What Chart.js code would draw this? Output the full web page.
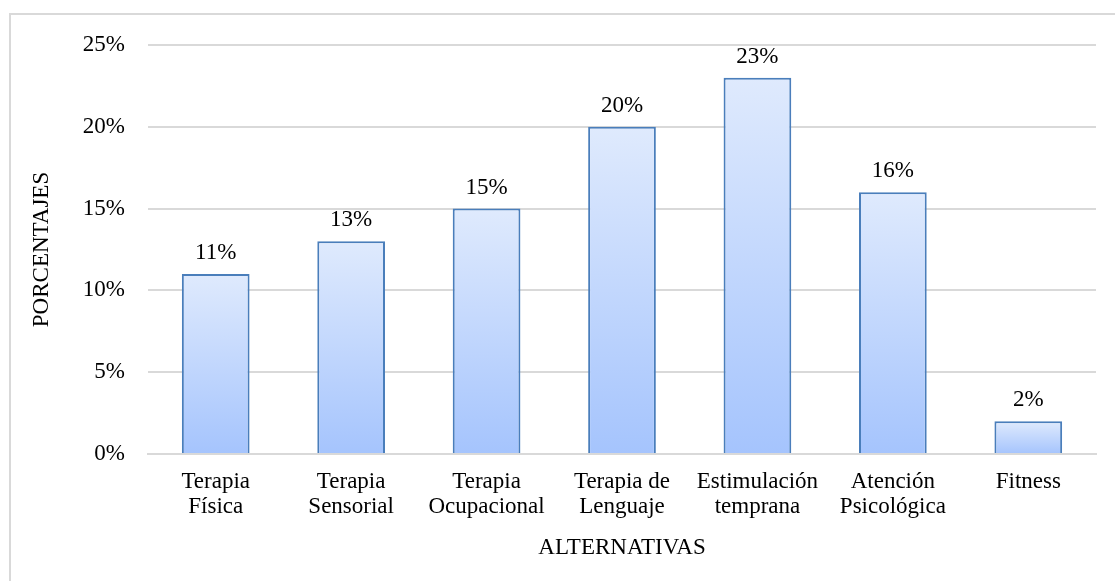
<!DOCTYPE html>
<html>
<head>
<meta charset="utf-8">
<script src="https://cdn.jsdelivr.net/npm/chart.js@4"></script>
<style>
  html, body { margin: 0; padding: 0; background: #ffffff; }
  #wrap { position: relative; width: 1115px; height: 581px; }
</style>
</head>
<body>
<div id="wrap"><canvas id="c" width="1115" height="581"></canvas></div>
<script>
const categories = [
  ["Terapia", "Física"],
  ["Terapia", "Sensorial"],
  ["Terapia", "Ocupacional"],
  ["Terapia de", "Lenguaje"],
  ["Estimulación", "temprana"],
  ["Atención", "Psicológica"],
  ["Fitness"]
];
const percentages = [11, 13, 15, 20, 23, 16, 2];
const yTicks = [0, 5, 10, 15, 20, 25];
const xTitle = "ALTERNATIVAS";
const yTitle = "PORCENTAJES";

const FONT = "'Liberation Serif', 'Times New Roman', serif";
const FS = 23;

const frame = {
  id: 'frame',
  beforeDraw(chart) {
    const ctx = chart.ctx;
    ctx.save();
    ctx.fillStyle = '#ffffff';
    ctx.fillRect(0, 0, chart.width, chart.height);
    ctx.strokeStyle = '#d9d9d9';
    ctx.lineWidth = 2;
    ctx.strokeRect(10, 14, 2000, 2000);
    ctx.restore();
  }
};

const valueLabels = {
  id: 'valueLabels',
  afterDatasetsDraw(chart) {
    const ctx = chart.ctx;
    const meta = chart.getDatasetMeta(0);
    ctx.save();
    ctx.font = FS + 'px ' + FONT;
    ctx.fillStyle = '#000000';
    ctx.textAlign = 'center';
    ctx.textBaseline = 'alphabetic';
    meta.data.forEach((bar, i) => {
      ctx.fillText(percentages[i] + '%', bar.x, bar.y - 15);
    });
    ctx.restore();
  }
};

function barGradient(context) {
  const chart = context.chart;
  const ys = chart.scales.y;
  if (!ys || context.parsed === undefined) return '#bcd3fc';
  const top = ys.getPixelForValue(context.parsed.y);
  const base = ys.getPixelForValue(0);
  if (!isFinite(top) || !isFinite(base) || top === base) return '#bcd3fc';
  const g = chart.ctx.createLinearGradient(0, top, 0, base);
  g.addColorStop(0, '#dfeafd');
  g.addColorStop(1, '#a5c4fd');
  return g;
}

new Chart(document.getElementById('c'), {
  type: 'bar',
  data: {
    labels: categories,
    datasets: [{
      data: percentages,
      backgroundColor: barGradient,
      borderColor: '#4a7ebb',
      borderWidth: 2,
      categoryPercentage: 1.0,
      barPercentage: 0.5
    }]
  },
  options: {
    responsive: false,
    animation: false,
    devicePixelRatio: 1,
    layout: { padding: { left: 0, right: 19, top: 45, bottom: 0 } },
    plugins: {
      legend: { display: false },
      tooltip: { enabled: false }
    },
    scales: {
      x: {
        grid: { display: false, drawTicks: false },
        border: { display: true, color: '#d9d9d9', width: 2 },
        ticks: {
          color: '#000000',
          font: { family: FONT, size: FS, lineHeight: '25px' },
          padding: 15,
          maxRotation: 0,
          autoSkip: false
        },
        title: {
          display: true,
          text: xTitle,
          color: '#000000',
          font: { family: FONT, size: FS },
          padding: { top: 0, bottom: 19 }
        },
        afterFit(scale) { scale.height = 127; }
      },
      y: {
        min: 0,
        max: 25,
        afterBuildTicks(scale) { scale.ticks = yTicks.map(v => ({ value: v })); },
        grid: { color: '#d9d9d9', lineWidth: 2, drawTicks: false },
        border: { display: false },
        ticks: {
          color: '#000000',
          font: { family: FONT, size: FS },
          padding: 23,
          callback: v => v + '%'
        },
        title: {
          display: true,
          text: yTitle,
          color: '#000000',
          font: { family: FONT, size: FS },
          padding: { top: 28, bottom: 0 }
        },
        afterFit(scale) { scale.width = 148; }
      }
    }
  },
  plugins: [frame, valueLabels]
});
</script>
</body>
</html>
